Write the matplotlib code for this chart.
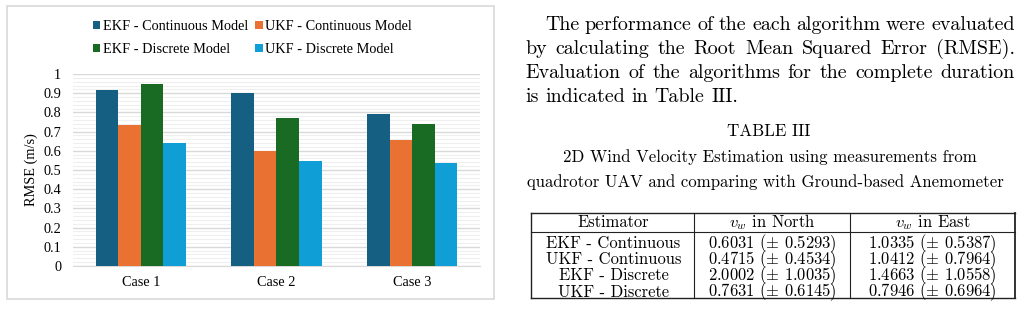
import matplotlib
matplotlib.use("Agg")
import matplotlib.pyplot as plt
import numpy as np
from matplotlib.patches import Rectangle
from matplotlib.lines import Line2D

# ---------------- data ----------------
cases = ["Case 1", "Case 2", "Case 3"]
series_names = ["EKF - Continuous Model", "UKF - Continuous Model",
                "EKF - Discrete Model", "UKF - Discrete Model"]
ekf_cont = [0.915, 0.90, 0.79]
ukf_cont = [0.735, 0.60, 0.655]
ekf_disc = [0.95, 0.77, 0.74]
ukf_disc = [0.64, 0.545, 0.535]
colors = ["#156082", "#E97132", "#196B24", "#0F9ED5"]
yticks = [0, 0.1, 0.2, 0.3, 0.4, 0.5, 0.6, 0.7, 0.8, 0.9, 1.0]
ytick_labels = ["0", "0.1", "0.2", "0.3", "0.4", "0.5", "0.6", "0.7", "0.8", "0.9", "1"]

paragraph_lines = [
    "The performance of the each algorithm were evaluated",
    "by calculating the Root Mean Squared Error (RMSE).",
    "Evaluation of the algorithms for the complete duration",
    "is indicated in Table III.",
]
table_title = "TABLE III"
table_caption = ["2D Wind Velocity Estimation using measurements from",
                 "quadrotor UAV and comparing with Ground-based Anemometer"]
table_header = ["Estimator", r"$v_w$ in North", r"$v_w$ in East"]
table_estimators = ["EKF - Continuous", "UKF - Continuous", "EKF - Discrete", "UKF - Discrete"]
north_mean = ["0.6031", "0.4715", "2.0002", "0.7631"]
north_std = ["0.5293", "0.4534", "1.0035", "0.6145"]
east_mean = ["1.0335", "1.0412", "1.4663", "0.7946"]
east_std = ["0.5387", "0.7964", "1.0558", "0.6964"]

# ---------------- figure ----------------
W, H = 1020, 312
DPI = 100
plt.rcParams["mathtext.fontset"] = "cm"
fig = plt.figure(figsize=(W / DPI, H / DPI), dpi=DPI)
fig.patch.set_facecolor("white")
renderer = fig.canvas.get_renderer()

def fx(px):
    return px / W

def fy(py):
    return 1 - py / H

TIMES = "Liberation Serif"
CM = "cmr10"
CFS = 10.3  # chart font size

# chart frame
fig.add_artist(Rectangle((fx(7), fy(299)), fx(494) - fx(7), fy(6) - fy(299),
                         transform=fig.transFigure, fill=False,
                         edgecolor="#D9D9D9", lw=1.2))

# chart axes
pl, pr, pt, pb = 73, 480, 74, 266
ax = fig.add_axes([fx(pl), fy(pb), fx(pr) - fx(pl), fy(pt) - fy(pb)])
series = [ekf_cont, ukf_cont, ekf_disc, ukf_disc]
x = np.arange(len(cases))
bw = 0.166
handles = []
for i, (vals, c) in enumerate(zip(series, colors)):
    b = ax.bar(x + (i - 1.5) * bw, vals, bw, color=c, zorder=3,
               label=series_names[i])
    handles.append(b)
ax.set_xlim(-0.5, len(cases) - 0.5)
ax.set_ylim(0, 1)
ax.set_yticks(yticks)
ax.set_yticklabels(ytick_labels, fontfamily=TIMES, fontsize=CFS)
ax.set_yticks(np.arange(0, 1.0001, 0.02), minor=True)
ax.set_xticks(x)
ax.set_xticklabels(cases, fontfamily=TIMES, fontsize=CFS)
ax.tick_params(axis="both", which="both", length=0)
ax.tick_params(axis="y", pad=8.5)
ax.tick_params(axis="x", pad=7.5)
ax.grid(axis="y", which="major", color="#D9D9D9", lw=1.0, zorder=0)
ax.grid(axis="y", which="minor", color="#EFEFEF", lw=0.8, zorder=0)
ax.set_axisbelow(True)
for s in ["top", "right", "left"]:
    ax.spines[s].set_visible(False)
ax.spines["bottom"].set_color("#D9D9D9")
ax.set_ylabel("RMSE (m/s)", fontfamily=TIMES, fontsize=CFS, labelpad=4)

order = [0, 2, 1, 3]
leg = fig.legend([handles[i] for i in order], [series_names[i] for i in order],
                 loc="upper left", bbox_to_anchor=(fx(93), fy(20)), ncol=2,
                 frameon=False, prop={"family": TIMES, "size": CFS},
                 handlelength=0.5, handleheight=0.5, handletextpad=0.2,
                 labelspacing=0.72, columnspacing=0.5, borderaxespad=0,
                 borderpad=0)

# ---------------- paragraph (justified) ----------------
para_fs = 14.4
para_y = [29.5, 53.8, 78.1, 102.4]
para_x0 = [545, 525, 525, 525]
para_x1 = 1015
probe = fig.text(0, 0, "a a", fontsize=para_fs, family=CM)
probe2 = fig.text(0, 0, "aa", fontsize=para_fs, family=CM)
space_w = probe.get_window_extent(renderer).width - probe2.get_window_extent(renderer).width
probe.remove(); probe2.remove()
for li, line in enumerate(paragraph_lines):
    words = line.split(" ")
    texts = [fig.text(0, 0, w, fontsize=para_fs, family=CM, va="baseline")
             for w in words]
    widths = [t.get_window_extent(renderer).width for t in texts]
    last = li == len(paragraph_lines) - 1
    gap = space_w if last else (para_x1 - para_x0[li] - sum(widths)) / (len(words) - 1)
    cx = para_x0[li]
    for t, wdt in zip(texts, widths):
        t.set_position((fx(cx), fy(para_y[li])))
        cx += wdt + gap

# ---------------- table caption ----------------
cap_fs = 12.1
fig.text(fx(769), fy(131), table_title, family=CM, fontsize=12.2,
         ha="center", va="center")
fig.text(fx(769.5), fy(157), table_caption[0], family=CM, fontsize=cap_fs,
         ha="center", va="center")
fig.text(fx(765.5), fy(182), table_caption[1], family=CM, fontsize=cap_fs,
         ha="center", va="center")

# ---------------- table ----------------
tl, tr, tt, tb = 531, 1015, 213, 297.5
hdr_rule = 231.5
col_div = [694, 850]
lc = "#222222"
def hline(y, x0, x1, lw=1.0):
    fig.add_artist(Line2D([fx(x0), fx(x1)], [fy(y), fy(y)], transform=fig.transFigure,
                          color=lc, lw=lw))
def vline(xp, y0, y1, lw=1.0):
    fig.add_artist(Line2D([fx(xp), fx(xp)], [fy(y0), fy(y1)], transform=fig.transFigure,
                          color=lc, lw=lw))
hline(tt, tl, tr)
hline(hdr_rule, tl, tr, lw=0.8)
hline(tb, tl, tr)
vline(tl, tt, tb)
vline(tr, tt, tb, lw=1.3)
for cxp in col_div:
    vline(cxp, tt, tb, lw=0.8)

col_centers = [(tl + col_div[0]) / 2 + 1, (col_div[0] + col_div[1]) / 2, (col_div[1] + tr) / 2]
tab_fs = 11.9
hdr_y = 222.5
for c, txt in zip(col_centers, table_header):
    fig.text(fx(c), fy(hdr_y), txt, family=CM, fontsize=tab_fs, ha="center", va="center")

row_first, row_last = 243.5, 292
col_texts = [
    "\n".join(table_estimators),
    "\n".join(m + r" ($\pm$ " + s + ")" for m, s in zip(north_mean, north_std)),
    "\n".join(m + r" ($\pm$ " + s + ")" for m, s in zip(east_mean, east_std)),
]
target = (row_last - row_first) / (len(table_estimators) - 1)

def line_offsets(t, ls):
    t.set_linespacing(ls)
    _, info, _ = t._get_layout(renderer)
    return [row[3] for row in info]

for c, txt in zip(col_centers, col_texts):
    t = fig.text(fx(c), fy((row_first + row_last) / 2), txt, family=CM,
                 fontsize=tab_fs, ha="center", va="center", multialignment="center")
    o1 = line_offsets(t, 1.0)
    o2 = line_offsets(t, 2.0)
    s1 = (o1[0] - o1[-1]) / (len(o1) - 1)
    s2 = (o2[0] - o2[-1]) / (len(o2) - 1)
    ls = 1.0 + (target - s1) / (s2 - s1)
    t.set_linespacing(ls)

fig.savefig("out.png", dpi=DPI)
